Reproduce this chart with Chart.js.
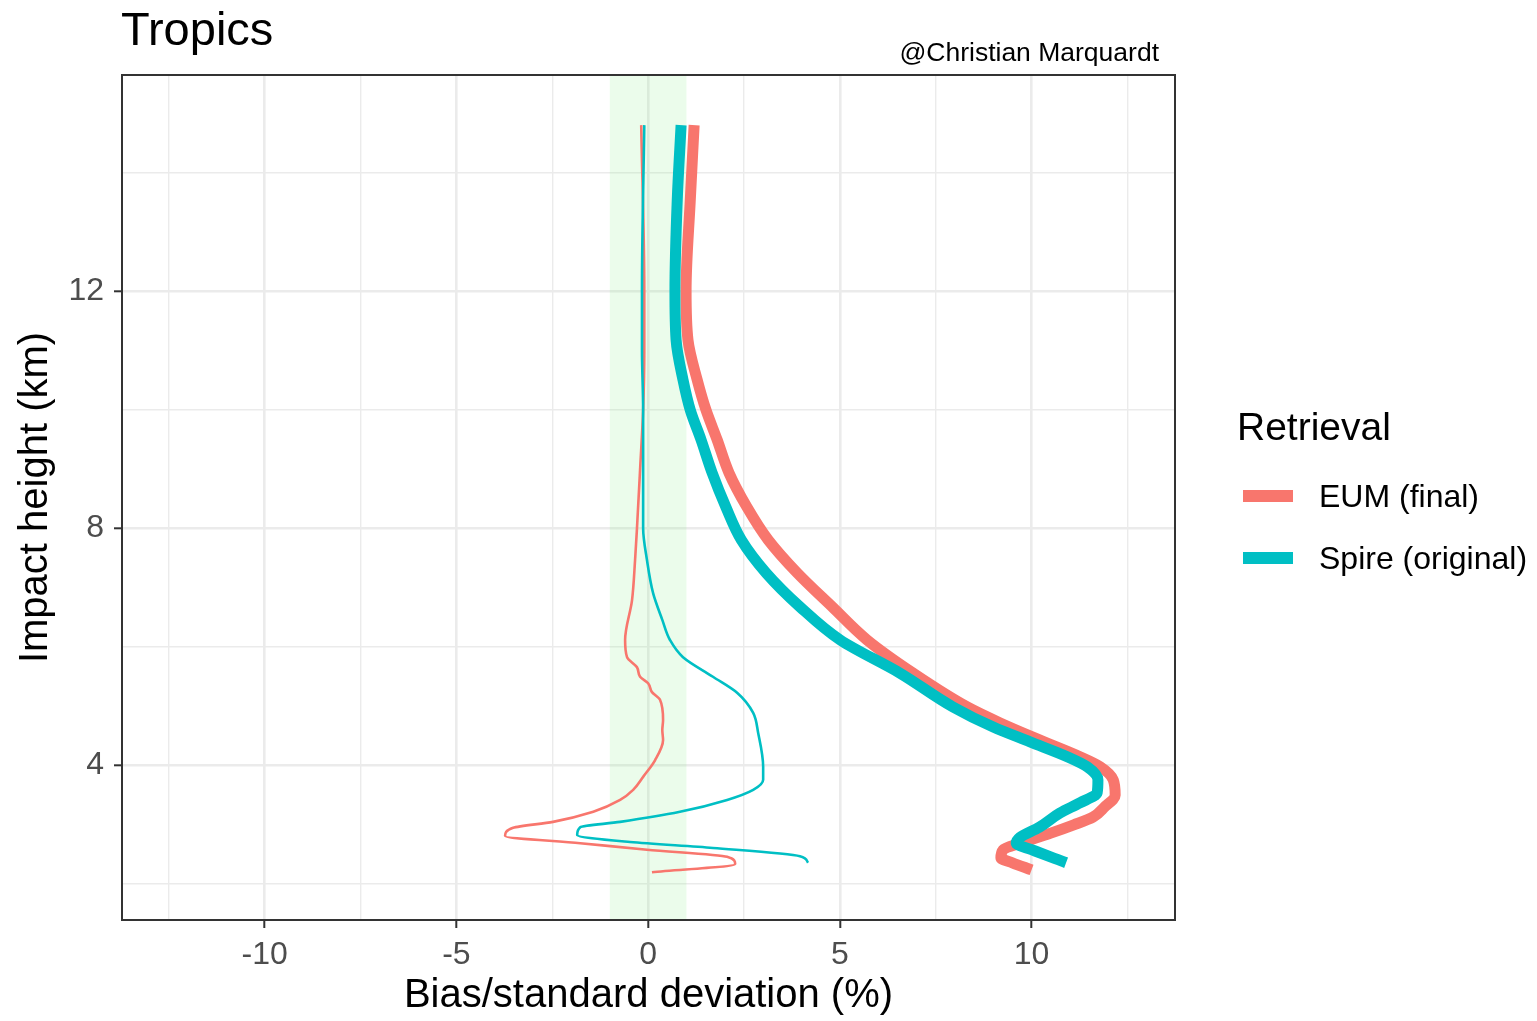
<!DOCTYPE html>
<html>
<head>
<meta charset="utf-8">
<title>Tropics</title>
<script src="https://cdn.jsdelivr.net/npm/chart.js@4.4.1/dist/chart.umd.min.js"></script>
<style>
  body { margin: 0; background: #fff; }
  #wrap { width: 1537px; height: 1021px; }
</style>
</head>
<body>
<div id="wrap"><canvas id="profile" width="1537" height="1021"></canvas></div>
<script>
'use strict'

// **** DATA ****
// heights in km, values in %
let eumStdHeight  = [14.80, 13.54, 12.00, 11.17, 10.50, 9.99, 9.49, 8.93, 8.35, 7.80, 7.24, 6.67, 6.11, 5.55, 4.98, 4.71, 4.42, 4.14, 3.97, 3.75, 3.49, 3.29, 3.12, 2.99, 2.85, 2.68, 2.57, 2.43, 2.35, 2.23];
let eumStdValue   = [1.20, 1.10, 0.99, 1.04, 1.28, 1.51, 1.80, 2.11, 2.58, 3.13, 3.89, 4.80, 5.71, 6.91, 8.32, 9.18, 10.22, 11.26, 11.79, 12.13, 12.18, 11.90, 11.60, 11.10, 10.50, 9.70, 9.26, 9.20, 9.50, 10.00];

let spireStdHeight = [14.80, 13.54, 12.00, 11.17, 10.50, 9.99, 9.49, 8.93, 8.35, 7.80, 7.24, 6.67, 6.11, 5.55, 4.98, 4.64, 4.39, 4.14, 3.97, 3.75, 3.53, 3.36, 3.19, 2.95, 2.78, 2.68, 2.57, 2.35];
let spireStdValue  = [0.86, 0.76, 0.70, 0.73, 0.91, 1.10, 1.38, 1.67, 2.03, 2.43, 3.08, 3.96, 5.01, 6.57, 7.95, 9.00, 9.96, 10.93, 11.45, 11.73, 11.71, 11.26, 10.74, 10.20, 9.70, 9.60, 10.00, 10.90];

let eumBiasHeight = [14.80, 12.00, 11.00, 9.99, 8.98, 8.00, 7.46, 6.78, 6.11, 5.82, 5.65, 5.49, 5.38, 5.23, 5.10, 4.76, 4.59, 4.42, 4.08, 3.80, 3.58, 3.41, 3.21, 3.04, 2.94, 2.80, 2.68, 2.57, 2.45, 2.33, 2.19];
let eumBiasValue  = [-0.18, -0.10, -0.10, -0.13, -0.21, -0.29, -0.34, -0.42, -0.60, -0.55, -0.29, -0.21, 0.00, 0.10, 0.31, 0.39, 0.37, 0.39, 0.18, -0.13, -0.39, -0.73, -1.43, -2.48, -3.52, -3.73, -1.77, -0.03, 2.06, 2.27, 0.10];

let spireBiasHeight = [14.80, 12.00, 11.00, 9.99, 8.98, 8.00, 7.46, 6.90, 6.45, 6.11, 5.82, 5.49, 5.22, 4.88, 4.54, 3.97, 3.75, 3.58, 3.41, 3.21, 3.04, 2.95, 2.82, 2.70, 2.60, 2.46, 2.35];
let spireBiasValue  = [-0.10, -0.16, -0.16, -0.13, -0.13, -0.13, -0.03, 0.13, 0.37, 0.57, 0.91, 1.69, 2.32, 2.74, 2.87, 3.00, 3.00, 2.74, 2.06, 0.83, -0.73, -1.77, -1.85, -0.47, 1.69, 3.96, 4.17];

let seriesNames  = ['EUM (final)', 'Spire (original)'];
let seriesColors = ['#F8766D', '#00BFC4'];

let xRange = [-13.72, 13.74];
let yRange = [1.384, 15.646];
let xMajorTicks = [-10, -5, 0, 5, 10];
let xMinorTicks = [-12.5, -7.5, -2.5, 2.5, 7.5, 12.5];
let yMajorTicks = [4, 8, 12];
let yMinorTicks = [2, 6, 10, 14];
let bandRange = [-1, 1];

// **** HELPERS ****
const FONT = "'Liberation Sans', Arial, sans-serif";
Chart.defaults.font.family = FONT;

function toPoints(values, heights) {
  return values.map((v, i) => ({ x: v, y: heights[i] }));
}

function tickList(major, minor) {
  return major.concat(minor).sort((a, b) => a - b).map(v => ({ value: v }));
}

function gridStyle(major) {
  return {
    color: '#EBEBEB',
    lineWidth: ctx => (ctx.tick && major.includes(ctx.tick.value)) ? 2.6 : 1.4,
    tickColor: ctx => (ctx.tick && major.includes(ctx.tick.value)) ? '#333333' : 'rgba(0,0,0,0)',
    tickWidth: 2,
    tickLength: 8
  };
}

// **** PLUGINS ****
const bandPlugin = {
  id: 'band',
  beforeDatasetsDraw(chart) {
    const { ctx, chartArea, scales } = chart;
    const x0 = scales.x.getPixelForValue(bandRange[0]);
    const x1 = scales.x.getPixelForValue(bandRange[1]);
    ctx.save();
    ctx.fillStyle = 'rgba(144, 238, 144, 0.18)';
    ctx.fillRect(x0, chartArea.top, x1 - x0, chartArea.bottom - chartArea.top);
    ctx.restore();
  }
};

const framePlugin = {
  id: 'frame',
  afterDraw(chart) {
    const { ctx, chartArea } = chart;
    ctx.save();
    ctx.strokeStyle = '#333333';
    ctx.lineWidth = 2;
    ctx.strokeRect(chartArea.left, chartArea.top, chartArea.right - chartArea.left, chartArea.bottom - chartArea.top);

    // title and credit
    ctx.fillStyle = '#000';
    ctx.textBaseline = 'alphabetic';
    ctx.textAlign = 'left';
    ctx.font = `47px ${FONT}`;
    ctx.fillText('Tropics', chartArea.left - 1, 45);
    ctx.textAlign = 'right';
    ctx.font = `26.5px ${FONT}`;
    ctx.fillText('@Christian Marquardt', 1159, 61);

    // legend
    ctx.textAlign = 'left';
    ctx.font = `39px ${FONT}`;
    ctx.fillText('Retrieval', 1237, 440);
    ctx.font = `32px ${FONT}`;
    ctx.textBaseline = 'middle';
    seriesNames.forEach((name, i) => {
      const y = 496 + i * 62;
      ctx.fillStyle = seriesColors[i];
      ctx.fillRect(1243, y - 6, 50, 12);
      ctx.fillStyle = '#000';
      ctx.fillText(name, 1319, y + 2);
    });
    ctx.restore();
  }
};

// **** CHART ****
// heights run down each profile, so the curves are splined along the y axis
const lineDefaults = {
  pointRadius: 0,
  pointHoverRadius: 0,
  borderJoinStyle: 'round',
  borderCapStyle: 'butt',
  cubicInterpolationMode: 'monotone',
  fill: false
};

const datasets = [
  Object.assign({}, lineDefaults, {
    label: seriesNames[1] + ' std',
    data: toPoints(spireStdValue, spireStdHeight),
    borderColor: seriesColors[1], borderWidth: 11
  }),
  Object.assign({}, lineDefaults, {
    label: seriesNames[0] + ' std',
    data: toPoints(eumStdValue, eumStdHeight),
    borderColor: seriesColors[0], borderWidth: 11
  }),
  Object.assign({}, lineDefaults, {
    label: seriesNames[1] + ' bias',
    data: toPoints(spireBiasValue, spireBiasHeight),
    borderColor: seriesColors[1], borderWidth: 2.6
  }),
  Object.assign({}, lineDefaults, {
    label: seriesNames[0] + ' bias',
    data: toPoints(eumBiasValue, eumBiasHeight),
    borderColor: seriesColors[0], borderWidth: 2.6
  })
];

const config = {
  type: 'line',
  data: { datasets: datasets },
  options: {
    indexAxis: 'y',
    responsive: false,
    animation: false,
    devicePixelRatio: 1,
    layout: { padding: { top: 75, right: 362, bottom: 0, left: 0 } },
    plugins: {
      legend: { display: false },
      tooltip: { enabled: false }
    },
    scales: {
      x: {
        type: 'linear',
        min: xRange[0],
        max: xRange[1],
        afterBuildTicks: axis => { axis.ticks = tickList(xMajorTicks, xMinorTicks); },
        afterFit: axis => { axis.height = 101; },
        border: { display: false },
        grid: gridStyle(xMajorTicks),
        ticks: {
          color: '#4D4D4D',
          font: { size: 32 },
          padding: 8,
          maxRotation: 0,
          autoSkip: false,
          callback: value => xMajorTicks.includes(value) ? String(value) : ''
        },
        title: {
          display: true,
          text: 'Bias/standard deviation (%)',
          color: '#000',
          font: { size: 40 },
          padding: { top: 0, bottom: 1 }
        }
      },
      y: {
        type: 'linear',
        min: yRange[0],
        max: yRange[1],
        afterBuildTicks: axis => { axis.ticks = tickList(yMajorTicks, yMinorTicks); },
        afterFit: axis => { axis.width = 122; },
        border: { display: false },
        grid: gridStyle(yMajorTicks),
        ticks: {
          color: '#4D4D4D',
          font: { size: 32 },
          padding: 10,
          autoSkip: false,
          callback: value => yMajorTicks.includes(value) ? String(value) : ''
        },
        title: {
          display: true,
          text: 'Impact height (km)',
          color: '#000',
          font: { size: 40 },
          padding: { top: 12, bottom: 0 }
        }
      }
    }
  },
  plugins: [bandPlugin, framePlugin]
};

const ctx = document.getElementById('profile');
const profileChart = new Chart(ctx, config);
</script>
</body>
</html>
